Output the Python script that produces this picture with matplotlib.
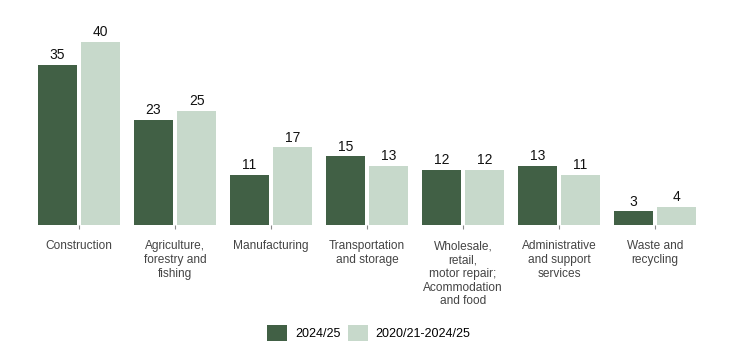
import numpy as np
import matplotlib.pyplot as plt
from matplotlib.patches import Patch

plt.rcParams['font.family'] = ['Liberation Sans', 'DejaVu Sans']

categories = ['Construction', 'Agriculture,\nforestry and\nfishing', 'Manufacturing',
              'Transportation\nand storage', 'Wholesale,\nretail,\nmotor repair;\nAcommodation\nand food',
              'Administrative\nand support\nservices', 'Waste and\nrecycling']
latest = [35, 23, 11, 15, 12, 13, 3]
average = [40, 25, 17, 13, 12, 11, 4]
series_names = ['2024/25', '2020/21-2024/25']

dark = '#416045'
light = '#c7d9cb'

fig = plt.figure(figsize=(7.42, 3.61), dpi=100)
ax = fig.add_axes([31 / 742, 136 / 361, 672 / 742, 192 / 361])

x = np.arange(len(categories))
w = 0.405
off = 0.225
b1 = ax.bar(x - off, latest, w, color=dark)
b2 = ax.bar(x + off, average, w, color=light)

for bars, vals in ((b1, latest), (b2, average)):
    for bar, v in zip(bars, vals):
        ax.text(bar.get_x() + bar.get_width() / 2, v + 0.6, str(v),
                ha='center', va='bottom', fontsize=10, color='#111111')

ax.set_xlim(-0.5, len(categories) - 0.5)
ax.set_ylim(0, 42)
ax.set_xticks(x)
ax.set_xticklabels(categories, fontsize=8.6, color='#444444', linespacing=1.2)
ax.tick_params(axis='x', length=3, width=0.8, color='#888888', pad=8)
ax.set_yticks([])
for s in ax.spines.values():
    s.set_visible(False)

handles = [Patch(facecolor=dark), Patch(facecolor=light)]
fig.legend(handles, series_names, loc='center', bbox_to_anchor=(0.497, 0.077), ncol=2,
           frameon=False, fontsize=9, handlelength=1.6, handleheight=1.6,
           columnspacing=0.6, handletextpad=0.6)

fig.savefig('out.png', dpi=100)
